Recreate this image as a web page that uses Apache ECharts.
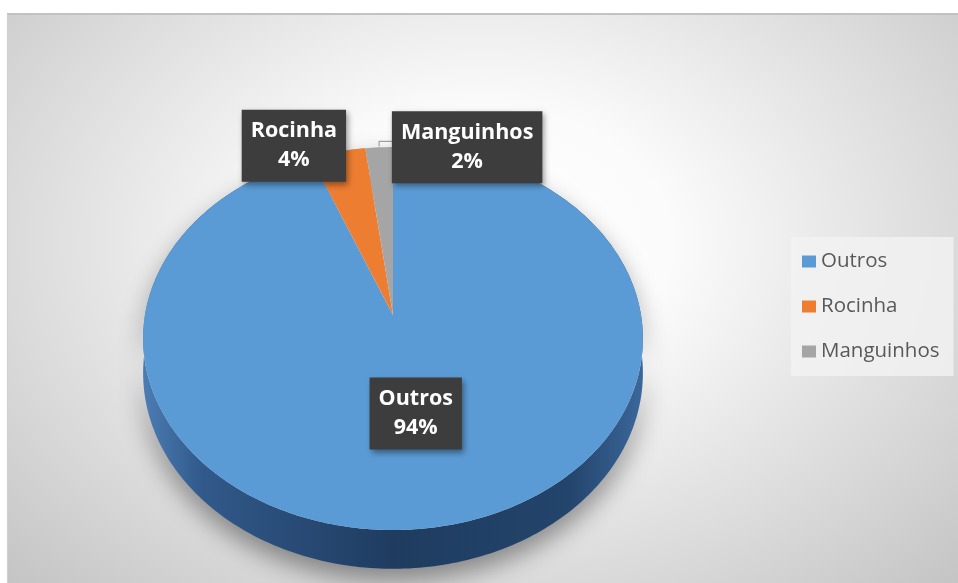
<!DOCTYPE html>
<html>
<head>
<meta charset="utf-8">
<script src="https://cdn.jsdelivr.net/npm/echarts@6/dist/echarts.min.js"></script>
<style>
  html, body { margin: 0; padding: 0; background: #fff; }
  #chart {
    position: absolute; left: 7px; top: 13px; width: 951px; height: 570px;
    box-sizing: border-box; border-top: 2px solid #c2c2c2; border-left: 1px solid #d0d0d0;
    background: radial-gradient(ellipse at 50% 40%, #ffffff 0%, #fbfbfb 28%, #c4c4c4 100%);
  }
</style>
</head>
<body>
<div id="chart"></div>
<script>
// data
const categories = ['Outros', 'Rocinha', 'Manguinhos'];
const values = [94, 4, 2];
const colors = ['#5b9bd5', '#ed7d31', '#a5a5a5'];

// 3d pie look: projected tilted disk
const CX = 385, CY = 300, RX = 248, RY = 188.6, PERSP = 0.123, DEPTH = 34;
const labelPlace = [
  { r: 0.5, dx: -2, dy: 0 },
  { r: 1, dx: -44, dy: -6 },
  { r: 1, dx: 88, dy: 0, leader: true }
];
const total = values.reduce((a, b) => a + b, 0);

function proj(r, theta, down) {
  const u = r * Math.sin(theta), v = r * Math.cos(theta);
  const w = 1 + PERSP * v;
  return [CX + RX * u / w, CY + (-RY * v + (down || 0)) / w];
}

function sliceAngles(i) {
  let before = 0;
  for (let k = 0; k < i; k++) before += values[k];
  const a0 = before / total * Math.PI * 2;
  const a1 = (before + values[i]) / total * Math.PI * 2;
  return [a0, a1];
}

function renderSlice(params, api) {
  const i = params.seriesIndex;
  const [a0, a1] = sliceAngles(i);
  const steps = Math.max(4, Math.ceil((a1 - a0) / (Math.PI / 180)));
  const topArc = [], botArc = [];
  for (let s = 0; s <= steps; s++) {
    const t = a0 + (a1 - a0) * s / steps;
    topArc.push(proj(1, t));
    botArc.push(proj(1, t, DEPTH));
  }
  const children = [];
  // side wall
  children.push({
    type: 'polygon',
    z2: 1,
    shape: { points: topArc.concat(botArc.slice().reverse()) },
    style: {
      fill: i === 0 ? new echarts.graphic.LinearGradient(0, 0, 1, 0, [
        { offset: 0, color: '#4b7db3' },
        { offset: 0.12, color: '#31598a' },
        { offset: 0.5, color: '#1f3c60' },
        { offset: 0.85, color: '#23446b' },
        { offset: 1, color: '#3b679a' }
      ]) : echarts.color.lift(colors[i], -0.4),
      shadowBlur: 24, shadowOffsetY: 12, shadowColor: 'rgba(0,0,0,0.4)'
    }
  });
  // top face
  children.push({
    type: 'polygon',
    z2: 5,
    shape: { points: [[CX, CY]].concat(topArc) },
    style: { fill: colors[i] }
  });
  // label
  const lp = labelPlace[i];
  const mid = (a0 + a1) / 2;
  const anchor = proj(lp.r, mid);
  const pct = Math.round(api.value(0) / total * 100) + '%';
  if (lp.leader) {
    const edge = proj(1, mid);
    children.push({
      type: 'polyline',
      z2: 8,
      shape: { points: [[edge[0], edge[1] - 1], [edge[0], edge[1] - 6], [edge[0] + 14, edge[1] - 6]] },
      style: { stroke: '#a0a0a0', lineWidth: 1.2, fill: null }
    });
  }
  children.push({
    type: 'text',
    z2: 10,
    style: {
      text: categories[i] + '\n' + pct,
      x: anchor[0] + lp.dx, y: anchor[1] + lp.dy,
      align: 'center', verticalAlign: 'middle',
      fill: '#ffffff', font: 'bold 21.5px "Open Sans"', lineHeight: 29,
      backgroundColor: '#3d3d3d', padding: [7, 9, 7, 9],
      shadowBlur: 6, shadowOffsetX: 2, shadowOffsetY: 3, shadowColor: 'rgba(0,0,0,0.4)'
    }
  });
  return { type: 'group', children };
}

const chart = echarts.init(document.getElementById('chart'));
chart.setOption({
  animation: false,
  backgroundColor: 'transparent',
  legend: {
    orient: 'vertical', left: 783, top: 222,
    padding: [14, 14, 14, 11], itemGap: 24,
    itemWidth: 14, itemHeight: 12, icon: 'rect',
    backgroundColor: 'rgba(242,242,242,0.8)',
    textStyle: { fontFamily: 'Open Sans', fontSize: 20.5, color: '#595959' },
    data: categories
  },
  series: categories.map((name, i) => ({
    type: 'custom',
    name,
    coordinateSystem: 'none',
    itemStyle: { color: colors[i] },
    renderItem: renderSlice,
    data: [[values[i]]]
  }))
});
window.addEventListener('resize', () => chart.resize());
</script>
</body>
</html>
